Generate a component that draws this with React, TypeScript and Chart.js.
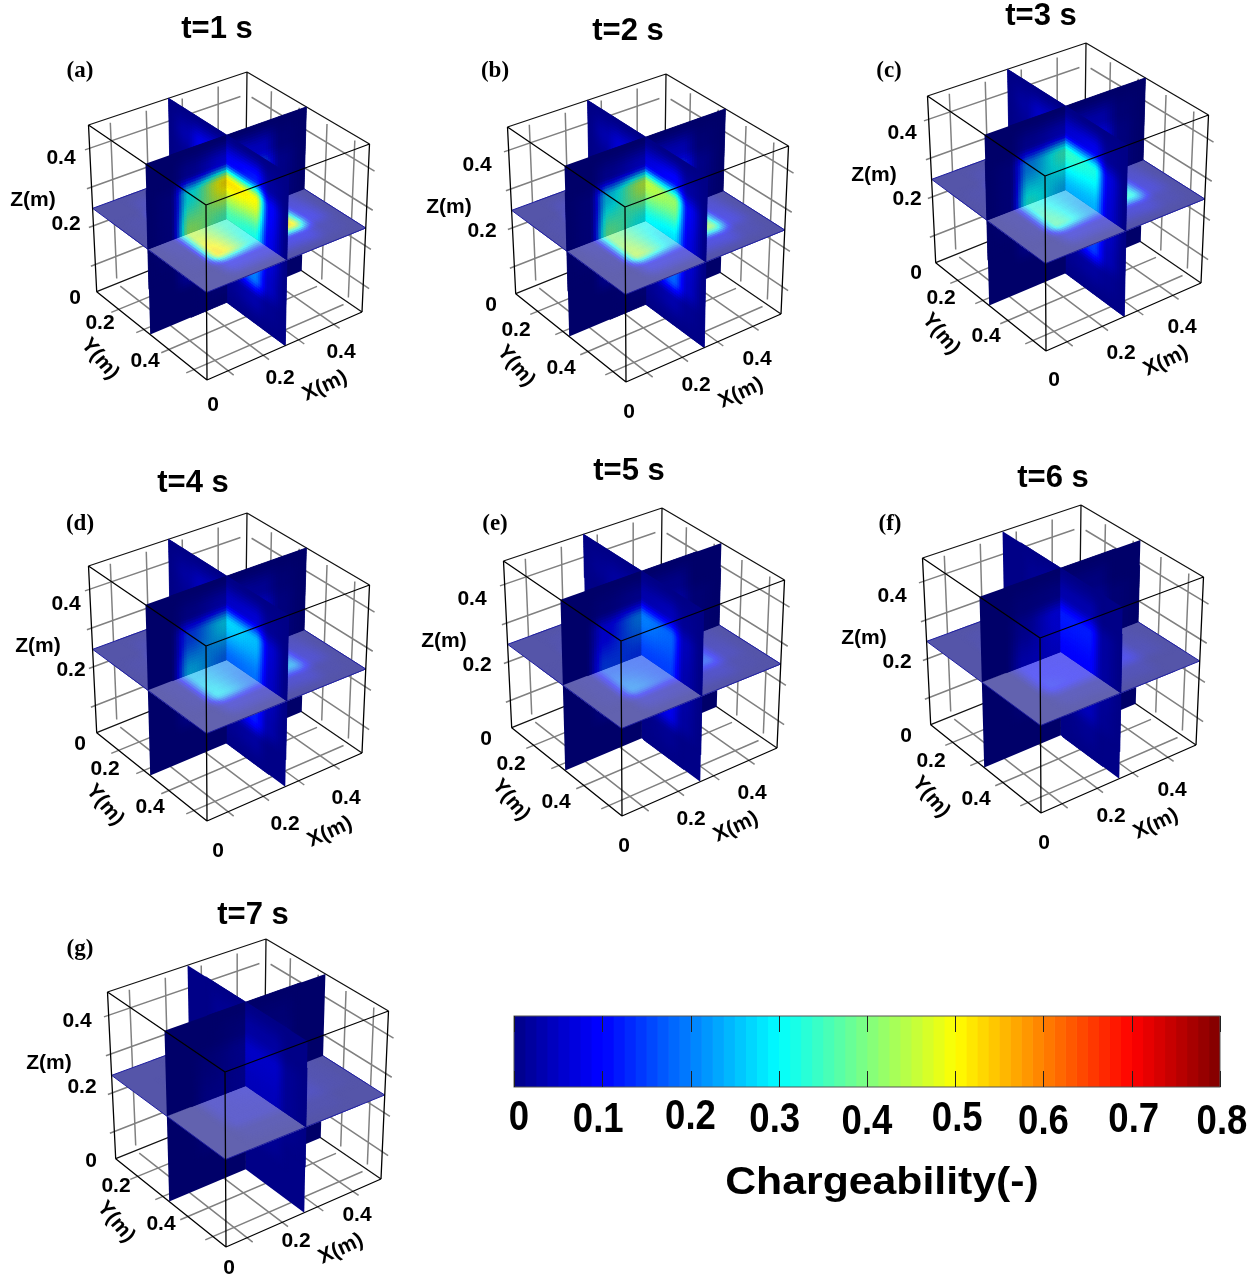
import React, { useEffect, useRef } from "react";
import { Chart, registerables } from "chart.js";

Chart.register(...registerables);

// ---------- data ----------
const TITLES = ["t=1 s", "t=2 s", "t=3 s", "t=4 s", "t=5 s", "t=6 s", "t=7 s"];
const TAGS = ["(a)", "(b)", "(c)", "(d)", "(e)", "(f)", "(g)"];
const AXIS_TICKS = [0.1, 0.2, 0.3, 0.4];
const X_RANGE = [0.04, 0.48];
const Y_RANGE = [0.012, 0.452];
const Z_RANGE = [0.03, 0.46];
const COLORBAR_TICKS = [0, 0.1, 0.2, 0.3, 0.4, 0.5, 0.6, 0.7, 0.8];
const COLORBAR_LEVELS = 64;
const COLORBAR_MAX = 0.8;
// fractional node positions along each slice
const NODES = [0, 0.15, 0.27, 0.5, 0.73, 0.85, 1];
const O = [0, 0, 0, 0, 0, 0, 0];

// chargeability x100. Y: slice at mid Y (rows z top to bottom, columns x). X: slice at mid X (rows z, columns y). H: slice at mid Z (rows y front to back, columns x)
const Y1 = [O, [0, 0, 3, 9, 8, 1, 0], [0, 1, 30, 52, 18, 3, 0], [0, 1, 42, 35, 14, 2, 0], [0, 0, 5, 7, 5, 1, 0], [0, 0, 0, 1, 0, 0, 0], O];
const X1 = [O, [0, 3, 8, 9, 12, 2, 0], [0, 1, 10, 52, 50, 10, 0], [0, 0, 3, 35, 32, 8, 0], [0, 0, 1, 8, 20, 5, 0], [0, 0, 0, 1, 3, 1, 0], O];
const H1 = [O, [0, 0, 8, 7, 8, 2, 0], [0, 1, 52, 30, 52, 8, 0], [0, 2, 45, 33, 30, 5, 0], [0, 1, 18, 22, 18, 2, 0], [0, 0, 3, 4, 3, 0, 0], O];
const Y2 = [O, [0, 0, 3, 7, 7, 1, 0], [0, 1, 27, 45, 16, 3, 0], [0, 1, 38, 30, 12, 2, 0], [0, 0, 4, 6, 4, 1, 0], [0, 0, 0, 1, 0, 0, 0], O];
const X2 = [O, [0, 3, 6, 7, 10, 2, 0], [0, 1, 9, 45, 42, 9, 0], [0, 0, 3, 30, 28, 7, 0], [0, 0, 1, 7, 18, 5, 0], [0, 0, 0, 1, 3, 1, 0], O];
const H2 = [O, [0, 0, 7, 6, 7, 2, 0], [0, 1, 44, 27, 42, 7, 0], [0, 2, 40, 30, 26, 5, 0], [0, 1, 16, 20, 16, 2, 0], [0, 0, 3, 3, 3, 0, 0], O];
const Y3 = [O, [0, 0, 3, 6, 6, 1, 0], [0, 1, 21, 34, 12, 2, 0], [0, 1, 32, 24, 10, 2, 0], [0, 0, 3, 5, 3, 1, 0], O, O];
const X3 = [O, [0, 2, 5, 6, 8, 1, 0], [0, 1, 7, 34, 32, 7, 0], [0, 0, 3, 24, 24, 6, 0], [0, 0, 1, 6, 15, 4, 0], [0, 0, 0, 1, 2, 1, 0], O];
const H3 = [O, [0, 0, 6, 5, 6, 2, 0], [0, 1, 36, 22, 32, 6, 0], [0, 1, 32, 24, 22, 4, 0], [0, 1, 13, 16, 13, 2, 0], [0, 0, 2, 3, 2, 0, 0], O];
const Y4 = [O, [0, 0, 2, 5, 4, 1, 0], [0, 0, 15, 27, 9, 2, 0], [0, 0, 25, 18, 8, 2, 0], [0, 0, 3, 4, 3, 0, 0], O, O];
const X4 = [O, [0, 2, 4, 5, 6, 1, 0], [0, 1, 5, 27, 25, 6, 0], [0, 0, 2, 18, 19, 5, 0], [0, 0, 1, 5, 12, 3, 0], [0, 0, 0, 1, 2, 0, 0], O];
const H4 = [O, [0, 0, 5, 4, 5, 1, 0], [0, 1, 28, 18, 23, 5, 0], [0, 1, 25, 20, 17, 3, 0], [0, 1, 10, 13, 10, 1, 0], [0, 0, 2, 2, 2, 0, 0], O];
const Y5 = [O, [0, 0, 1, 3, 3, 0, 0], [0, 0, 9, 20, 6, 1, 0], [0, 0, 15, 14, 6, 1, 0], [0, 0, 2, 3, 2, 0, 0], O, O];
const X5 = [O, [0, 1, 2, 3, 4, 1, 0], [0, 0, 3, 20, 18, 4, 0], [0, 0, 2, 15, 15, 3, 0], [0, 0, 0, 4, 8, 2, 0], [0, 0, 0, 0, 1, 0, 0], O];
const H5 = [O, [0, 0, 4, 3, 4, 1, 0], [0, 1, 20, 15, 15, 3, 0], [0, 1, 16, 15, 12, 2, 0], [0, 0, 7, 9, 7, 1, 0], [0, 0, 1, 2, 1, 0, 0], O];
const Y6 = [O, [0, 0, 1, 2, 2, 0, 0], [0, 0, 3, 10, 4, 1, 0], [0, 0, 6, 8, 4, 1, 0], [0, 0, 1, 2, 1, 0, 0], O, O];
const X6 = [O, [0, 0, 1, 3, 3, 0, 0], [0, 0, 2, 12, 12, 2, 0], [0, 0, 1, 10, 10, 2, 0], [0, 0, 0, 2, 4, 1, 0], [0, 0, 0, 0, 1, 0, 0], O];
const H6 = [O, [0, 0, 2, 2, 2, 0, 0], [0, 0, 11, 9, 8, 2, 0], [0, 0, 9, 9, 7, 1, 0], [0, 0, 4, 6, 4, 1, 0], [0, 0, 1, 1, 1, 0, 0], O];
const Y7 = [O, [0, 0, 0, 1, 1, 0, 0], [0, 0, 1, 3, 2, 0, 0], [0, 0, 2, 3, 2, 0, 0], [0, 0, 1, 1, 1, 0, 0], O, O];
const X7 = [O, [0, 0, 1, 2, 2, 0, 0], [0, 0, 1, 5, 5, 1, 0], [0, 0, 1, 4, 4, 1, 0], [0, 0, 0, 1, 1, 0, 0], O, O];
const H7 = [O, [0, 0, 1, 1, 1, 0, 0], [0, 0, 4, 4, 3, 1, 0], [0, 0, 4, 5, 3, 1, 0], [0, 0, 2, 3, 2, 0, 0], [0, 0, 0, 1, 0, 0, 0], O];

const SLICES_Y = [Y1, Y2, Y3, Y4, Y5, Y6, Y7];
const SLICES_X = [X1, X2, X3, X4, X5, X6, X7];
const SLICES_H = [H1, H2, H3, H4, H5, H6, H7];

// ---------- layout ----------
const W = 430;
const H = 440;
const PANEL_OFFSET = [[0, 0], [419, 2], [839, -29], [0, 441], [415, 436], [834, 433], [19, 867]];
const LABEL_OFFSET = [[0, 0], [-3, 5], [2, 4], [5, 5], [-4, 5], [-3, 5], [-3, -4]];
const TITLE_POS = [[217, 29], [209, 29], [202, 45], [193, 42], [214, 35], [219, 45], [234, 48]];
const TAG_POS = [[80, 71], [76, 69], [50, 100], [80, 83], [80, 88], [56, 91], [61, 82]];
// where the slice planes cut the box, as fractions of the box
const PLANE_X = 0.505;
const PLANE_Y = 0.485;
const PLANE_Z = 0.5;
// box corners in the panel's plot units: top / bottom
const TOP = { L: [88.5, 125], F: [206, 205], R: [369.5, 144], B: [247, 72] };
const BOT = { L: [96.7, 291.7], F: [207, 380], R: [362, 312], B: [245, 232] };

const AXIS_LABELS: [string, number, number, number][] = [
  ["0.4", 61, 158, 0], ["0.2", 66, 224, 0], ["0", 75, 298, 0], ["Z(m)", 33, 200, 0],
  ["0.2", 100, 323, 0], ["0.4", 145, 361, 0], ["Y(m)", 100, 359, 50],
  ["0.2", 280, 378, 0], ["0.4", 341, 352, 0], ["X(m)", 325, 386, -25], ["0", 213, 405, 0],
];

function project(xf: number, yf: number, zf: number) {
  const mix = (c: any) => {
    const a0 = c.L[0] * (1 - xf) * (1 - yf) + c.F[0] * (1 - xf) * yf + c.R[0] * xf * yf + c.B[0] * xf * (1 - yf);
    const a1 = c.L[1] * (1 - xf) * (1 - yf) + c.F[1] * (1 - xf) * yf + c.R[1] * xf * yf + c.B[1] * xf * (1 - yf);
    return [a0, a1];
  };
  const t = mix(TOP);
  const b = mix(BOT);
  return { x: t[0] * zf + b[0] * (1 - zf), y: t[1] * zf + b[1] * (1 - zf) };
}

const frac = (v: number, r: number[]) => (v - r[0]) / (r[1] - r[0]);
const GAP = { x: NaN, y: NaN };

function seg(a: number[], b: number[]) {
  return [project(a[0], a[1], a[2]), project(b[0], b[1], b[2]), GAP];
}

function gridLines() {
  const pts: any[] = [];
  for (const t of AXIS_TICKS) {
    const zf = frac(t, Z_RANGE);
    pts.push(...seg([-0.03, 0, zf], [0.96, 0, zf]));
    pts.push(...seg([1, 0.04, zf], [1, 1.05, zf]));
    const xf = frac(t, X_RANGE);
    pts.push(...seg([xf, 0, 0.03], [xf, 0, 0.97]));
    pts.push(...seg([xf, 0.03, 0], [xf, 1.05, 0]));
    const yf = frac(t, Y_RANGE);
    pts.push(...seg([1, yf, 0.03], [1, yf, 0.97]));
    pts.push(...seg([-0.05, yf, 0], [0.97, yf, 0]));
  }
  return pts;
}
function backEdges() {
  return [
    ...seg([0, 0, 1], [1, 0, 1]), ...seg([1, 0, 1], [1, 1, 1]), ...seg([1, 0, 1], [1, 0, 0]),
    ...seg([0, 0, 0], [1, 0, 0]), ...seg([1, 0, 0], [1, 1, 0]),
  ];
}
function frontEdges() {
  return [
    ...seg([0, 0, 1], [0, 1, 1]), ...seg([0, 1, 1], [1, 1, 1]),
    ...seg([0, 0, 1], [0, 0, 0]), ...seg([0, 1, 1], [0, 1, 0]), ...seg([1, 1, 1], [1, 1, 0]),
    ...seg([0, 0, 0], [0, 1, 0]), ...seg([0, 1, 0], [1, 1, 0]),
  ];
}

// ---------- colour ----------
const clamp = (v: number) => Math.max(0, Math.min(1, v));
function jetFull(t: number) {
  return [
    clamp(Math.min(4 * t - 1.5, -4 * t + 4.5)) * 255,
    clamp(Math.min(4 * t - 0.5, -4 * t + 3.5)) * 255,
    clamp(Math.min(4 * t + 0.53, -4 * t + 2.5)) * 255,
  ];
}
const css = (c: number[]) => `rgb(${Math.round(c[0])},${Math.round(c[1])},${Math.round(c[2])})`;

function sample(grid: number[][], u: number, v: number) {
  const locate = (p: number) => {
    let i = 0;
    while (i < NODES.length - 2 && p > NODES[i + 1]) i++;
    const s = clamp((p - NODES[i]) / (NODES[i + 1] - NODES[i]));
    return [i, s * s * (3 - 2 * s)];
  };
  const [c, cs] = locate(u);
  const [r, rs] = locate(1 - v);
  const top = grid[r][c] * (1 - cs) + grid[r][c + 1] * cs;
  const bot = grid[r + 1][c] * (1 - cs) + grid[r + 1][c + 1] * cs;
  return (top * (1 - rs) + bot * rs) / 100;
}

function paintQuad(ctx: any, sx: any, sy: any, toBox: (u: number, v: number) => number[], grid: number[][], u0: number, u1: number, v0: number, v1: number, colour: (v: number) => string) {
  const N = 32;
  const pt = (u: number, v: number) => {
    const b = toBox(u, v);
    const p = project(b[0], b[1], b[2]);
    return [sx.getPixelForValue(p.x), sy.getPixelForValue(p.y)];
  };
  const poly = (a: number, b: number, c: number, d: number) => {
    ctx.beginPath();
    let p = pt(a, c);
    ctx.moveTo(p[0], p[1]);
    p = pt(b, c);
    ctx.lineTo(p[0], p[1]);
    p = pt(b, d);
    ctx.lineTo(p[0], p[1]);
    p = pt(a, d);
    ctx.lineTo(p[0], p[1]);
    ctx.closePath();
  };
  // base coat so the seams between cells never show the page through
  ctx.fillStyle = colour(0);
  poly(u0, u1, v0, v1);
  ctx.fill();
  for (let i = 0; i < N; i++) {
    for (let j = 0; j < N; j++) {
      const a = u0 + ((u1 - u0) * i) / N;
      const b = u0 + ((u1 - u0) * (i + 1)) / N;
      const c = v0 + ((v1 - v0) * j) / N;
      const d = v0 + ((v1 - v0) * (j + 1)) / N;
      const value = sample(grid, (a + b) / 2, (c + d) / 2);
      if (value <= 0) continue;
      const col = colour(value);
      ctx.fillStyle = col;
      ctx.strokeStyle = col;
      ctx.lineWidth = 0.8;
      poly(a, b, c, d);
      ctx.fill();
      ctx.stroke();
    }
  }
}

const shaded = (k: number) => (v: number) => {
  const c = jetFull(v / COLORBAR_MAX);
  return css([c[0] * k, c[1] * k, c[2] * k]);
};
const veiled = (a: number) => (v: number) => {
  const c = jetFull(v / COLORBAR_MAX);
  return css([c[0] * a + 255 * (1 - a) - 4, c[1] * a + 255 * (1 - a) - 4, c[2] * a + 255 * (1 - a) - 8]);
};

function paintSlices(chart: any, idx: number) {
  const ctx = chart.ctx;
  const sx = chart.scales.x;
  const sy = chart.scales.y;
  const yPlane = (u: number, v: number) => [u, PLANE_Y, v];
  const xPlane = (u: number, v: number) => [PLANE_X, u, v];
  const hPlane = (u: number, v: number) => [u, v, PLANE_Z];
  const gy = SLICES_Y[idx];
  const gx = SLICES_X[idx];
  const gh = SLICES_H[idx];
  const dark = shaded(0.78);
  const bright = shaded(1);
  ctx.save();
  paintQuad(ctx, sx, sy, xPlane, gx, 0, PLANE_Y, 0, PLANE_Z, bright);
  paintQuad(ctx, sx, sy, yPlane, gy, PLANE_X, 1, 0, PLANE_Z, dark);
  paintQuad(ctx, sx, sy, xPlane, gx, PLANE_Y, 1, 0, PLANE_Z, bright);
  paintQuad(ctx, sx, sy, yPlane, gy, 0, PLANE_X, 0, PLANE_Z, dark);
  const far = veiled(0.65);
  const near = veiled(0.6);
  paintQuad(ctx, sx, sy, hPlane, gh, PLANE_X, 1, 0, PLANE_Y, far);
  paintQuad(ctx, sx, sy, hPlane, gh, 0, PLANE_X, 0, PLANE_Y, far);
  paintQuad(ctx, sx, sy, hPlane, gh, PLANE_X, 1, PLANE_Y, 1, far);
  paintQuad(ctx, sx, sy, hPlane, gh, 0, PLANE_X, PLANE_Y, 1, near);
  const corners = [[0, 0], [1, 0], [1, 1], [0, 1]].map((c) => {
    const p = project(c[0], c[1], PLANE_Z);
    return [sx.getPixelForValue(p.x), sy.getPixelForValue(p.y)];
  });
  ctx.strokeStyle = "rgb(30,30,160)";
  ctx.lineWidth = 1;
  ctx.beginPath();
  corners.forEach((p, i) => (i ? ctx.lineTo(p[0], p[1]) : ctx.moveTo(p[0], p[1])));
  ctx.closePath();
  ctx.stroke();
  paintQuad(ctx, sx, sy, xPlane, gx, 0, PLANE_Y, PLANE_Z, 1, bright);
  paintQuad(ctx, sx, sy, yPlane, gy, PLANE_X, 1, PLANE_Z, 1, dark);
  paintQuad(ctx, sx, sy, yPlane, gy, 0, PLANE_X, PLANE_Z, 1, dark);
  paintQuad(ctx, sx, sy, xPlane, gx, PLANE_Y, 1, PLANE_Z, 1, bright);
  ctx.restore();
}

function text(ctx: any, s: string, x: number, y: number, font: string, rot = 0, sx = 1) {
  ctx.save();
  ctx.font = font;
  ctx.fillStyle = "#000";
  ctx.textAlign = "center";
  ctx.textBaseline = "middle";
  ctx.translate(x, y);
  if (rot) ctx.rotate((rot * Math.PI) / 180);
  ctx.scale(sx, 1);
  ctx.fillText(s, 0, 0);
  ctx.restore();
}

function makePanel(canvas: HTMLCanvasElement, idx: number) {
  const panelPlugin = {
    id: "slices3d",
    afterDatasetDraw(chart: any, args: any) {
      if (chart.data.datasets[args.index].label === "slices") paintSlices(chart, idx);
    },
    afterDraw(chart: any) {
      const ctx = chart.ctx;
      const sx = chart.scales.x;
      const sy = chart.scales.y;
      const off = LABEL_OFFSET[idx];
      const px = (v: number) => sx.getPixelForValue(v);
      const py = (v: number) => sy.getPixelForValue(v);
      text(ctx, TITLES[idx], px(TITLE_POS[idx][0]), py(TITLE_POS[idx][1]), 'bold 31px "Liberation Sans"');
      text(ctx, TAGS[idx], px(TAG_POS[idx][0]), py(TAG_POS[idx][1]), 'bold 23px "Liberation Serif"');
      for (const [s, x, y, r] of AXIS_LABELS) {
        text(ctx, s, px(x + off[0]), py(y + off[1]), 'bold 21px "Liberation Sans"', r);
      }
    },
  };
  return new Chart(canvas, {
    type: "scatter",
    data: {
      datasets: [
        { label: "box front", data: frontEdges(), showLine: true, pointRadius: 0, borderColor: "#000", borderWidth: 1.3, order: 0 },
        { label: "slices", data: [], order: 1 },
        { label: "box back", data: backEdges(), showLine: true, pointRadius: 0, borderColor: "#111", borderWidth: 1.3, order: 2 },
        { label: "grid", data: gridLines(), showLine: true, pointRadius: 0, borderColor: "#808080", borderWidth: 1.5, order: 3 },
      ],
    } as any,
    options: {
      responsive: false,
      animation: false,
      devicePixelRatio: 1,
      layout: { padding: 0 },
      plugins: { legend: { display: false }, tooltip: { enabled: false }, title: { display: false } },
      scales: {
        x: { type: "linear", min: 0, max: W, display: false },
        y: { type: "linear", min: 0, max: H, reverse: true, display: false },
      },
    } as any,
    plugins: [panelPlugin],
  });
}

const LABEL_Y_SHIFT = [-1, 1, -2, 1, 3, 0, 3, 1, 3];

function makeColorbar(canvas: HTMLCanvasElement) {
  const levels = Array.from({ length: COLORBAR_LEVELS }, (_, i) => i);
  const barPlugin = {
    id: "colorbarDecor",
    afterDraw(chart: any) {
      const ctx = chart.ctx;
      const a = chart.chartArea;
      const sx = chart.scales.x;
      ctx.save();
      ctx.strokeStyle = "#555";
      ctx.lineWidth = 1;
      ctx.strokeRect(a.left, a.top, a.right - a.left, a.bottom - a.top);
      ctx.strokeStyle = "#222";
      COLORBAR_TICKS.forEach((t) => {
        const x = Math.round(sx.getPixelForValue(t)) + 0.5;
        ctx.beginPath();
        ctx.moveTo(x, a.top);
        ctx.lineTo(x, a.top + 16);
        ctx.moveTo(x, a.bottom - 16);
        ctx.lineTo(x, a.bottom);
        ctx.stroke();
      });
      ctx.restore();
      COLORBAR_TICKS.forEach((t, i) => {
        const nudge = i === 0 ? 5 : i === 8 ? 2 : i === 1 ? -4 : i === 3 ? -4 : i === 7 ? 2 : i === 5 ? 2 : 0;
        text(ctx, String(t), sx.getPixelForValue(t) + nudge, a.bottom + 32 + LABEL_Y_SHIFT[i], 'bold 42px "Liberation Sans"', 0, 0.87);
      });
      text(ctx, "Chargeability(-)", (a.left + a.right) / 2 + 15, a.bottom + 97, 'bold 38px "Liberation Sans"', 0, 1.125);
    },
  };
  return new Chart(canvas, {
    type: "bar",
    data: {
      labels: ["Chargeability"],
      datasets: levels.map((i) => ({
        label: `level ${i}`,
        data: [COLORBAR_MAX / COLORBAR_LEVELS],
        backgroundColor: css(jetFull((i + 0.5) / COLORBAR_LEVELS)),
        barPercentage: 1,
        categoryPercentage: 1,
      })),
    },
    options: {
      indexAxis: "y",
      responsive: false,
      animation: false,
      devicePixelRatio: 1,
      layout: { padding: { left: 24, right: 40, top: 16, bottom: 133 } },
      plugins: { legend: { display: false }, tooltip: { enabled: false } },
      scales: {
        x: { type: "linear", stacked: true, min: 0, max: COLORBAR_MAX, display: false },
        y: { stacked: true, display: false },
      },
    } as any,
    plugins: [barPlugin],
  });
}

const SOFTEN = "blur(0.45px)";

export default function App() {
  const panels = useRef<(HTMLCanvasElement | null)[]>([]);
  const bar = useRef<HTMLCanvasElement | null>(null);
  useEffect(() => {
    const charts = TITLES.map((_, i) => makePanel(panels.current[i] as HTMLCanvasElement, i));
    charts.push(makeColorbar(bar.current as HTMLCanvasElement) as any);
    return () => charts.forEach((c) => c.destroy());
  }, []);
  return (
    <div style={{ position: "fixed", left: 0, top: 0, width: 1260, height: 1278, overflow: "hidden", background: "#fff" }}>
      {TITLES.map((t, i) => (
        <canvas
          key={t}
          ref={(el) => {
            panels.current[i] = el;
          }}
          width={W}
          height={H}
          style={{ position: "absolute", left: PANEL_OFFSET[i][0], top: PANEL_OFFSET[i][1], width: W, height: H, filter: SOFTEN }}
        />
      ))}
      <canvas ref={bar} width={770} height={220} style={{ position: "absolute", left: 490, top: 1000, width: 770, height: 220, filter: SOFTEN }} />
    </div>
  );
}
